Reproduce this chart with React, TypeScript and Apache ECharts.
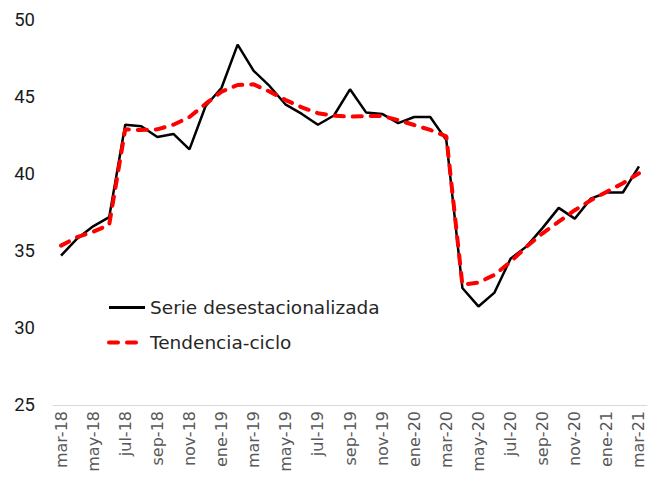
import React, { useEffect, useRef } from "react";
import * as echarts from "echarts";

const months = [
  "mar-18","abr-18","may-18","jun-18","jul-18","ago-18","sep-18","oct-18","nov-18","dic-18",
  "ene-19","feb-19","mar-19","abr-19","may-19","jun-19","jul-19","ago-19","sep-19","oct-19","nov-19","dic-19",
  "ene-20","feb-20","mar-20","abr-20","may-20","jun-20","jul-20","ago-20","sep-20","oct-20","nov-20","dic-20",
  "ene-21","feb-21","mar-21",
];

const seasonal = [
  34.7, 35.8, 36.6, 37.2, 43.2, 43.1, 42.4, 42.6, 41.6, 44.4,
  45.6, 48.4, 46.7, 45.7, 44.5, 43.9, 43.2, 43.8, 45.5, 44.0, 43.9, 43.3,
  43.7, 43.7, 42.2, 32.6, 31.4, 32.3, 34.5, 35.3, 36.5, 37.8, 37.1, 38.4,
  38.8, 38.8, 40.5,
];

const trend = [
  35.35, 35.9, 36.25, 36.7, 42.9, 42.85, 42.9, 43.2, 43.7, 44.55,
  45.35, 45.78, 45.82, 45.35, 44.8, 44.33, 43.95, 43.78, 43.72, 43.77, 43.77, 43.5,
  43.18, 42.86, 42.45, 32.8, 32.95, 33.45, 34.3, 35.28, 36.15, 36.9, 37.65, 38.3,
  38.85, 39.4, 40.05,
];

const seriesNames = ["Serie desestacionalizada", "Tendencia-ciclo"];

export default function App() {
  const ref = useRef<HTMLDivElement>(null);
  useEffect(() => {
    if (!ref.current) return;
    const chart = echarts.init(ref.current, null, { renderer: "svg" });
    chart.setOption({
      animation: false,
      backgroundColor: "#ffffff",
      grid: { left: 53, right: 5, top: 20, bottom: 72, containLabel: false },
      legend: {
        orient: "vertical",
        left: 102,
        top: 293,
        itemWidth: 36,
        itemHeight: 18,
        itemGap: 16,
        itemStyle: { opacity: 0 },
        textStyle: { fontFamily: "DejaVu Sans", fontSize: 18.5, color: "#262626" },
        data: [
          { name: seriesNames[0], lineStyle: { width: 3, color: "#000000" } },
          { name: seriesNames[1], lineStyle: { width: 4, color: "#ff0000", type: [9, 9], cap: "round" } },
        ],
      },
      xAxis: {
        type: "category",
        data: months,
        boundaryGap: true,
        axisLine: { lineStyle: { color: "#d9d9d9", width: 1 } },
        axisTick: { interval: 1, length: 6, lineStyle: { color: "#d9d9d9" } },
        axisLabel: {
          interval: 1,
          rotate: 90,
          margin: 6,
          fontFamily: "DejaVu Sans",
          fontSize: 16,
          color: "#595959",
        },
      },
      yAxis: {
        type: "value",
        min: 25,
        max: 50,
        interval: 5,
        axisLine: { show: false },
        axisTick: { show: false },
        splitLine: { show: false },
        axisLabel: { margin: 18, fontFamily: "Roboto", fontSize: 18.5, color: "#1a1a1a" },
      },
      series: [
        {
          name: seriesNames[0],
          type: "line",
          data: seasonal,
          symbol: "none",
          lineStyle: { color: "#000000", width: 2.5 },
          itemStyle: { color: "#000000" },
        },
        {
          name: seriesNames[1],
          type: "line",
          data: trend,
          symbol: "none",
          lineStyle: { color: "#ff0000", width: 4, type: [9, 9], cap: "round" },
          itemStyle: { color: "#ff0000" },
        },
      ],
    });
    return () => chart.dispose();
  }, []);
  return <div ref={ref} style={{ width: 652, height: 477, position: "absolute", left: 0, top: 0 }} />;
}
